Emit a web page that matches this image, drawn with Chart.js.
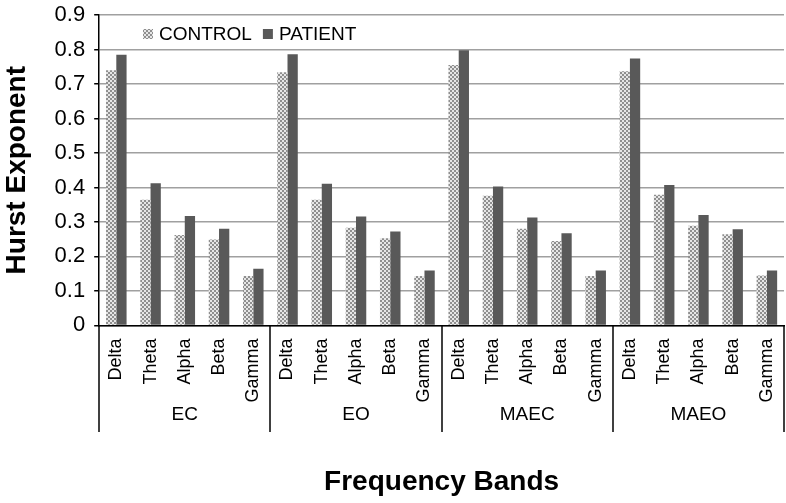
<!DOCTYPE html>
<html>
<head>
<meta charset="utf-8">
<script src="https://cdn.jsdelivr.net/npm/chart.js@4.4.1/dist/chart.umd.min.js"></script>
<style>
  html, body { margin: 0; padding: 0; background: #fff; }
  #wrap { width: 786px; height: 503px; position: relative; }
</style>
</head>
<body>
<div id="wrap"><canvas id="hurstChart"></canvas></div>
<script>
// Data
const groups = ['EC', 'EO', 'MAEC', 'MAEO'];
const bands = ['Delta', 'Theta', 'Alpha', 'Beta', 'Gamma'];
const control = [
  0.740, 0.364, 0.262, 0.249, 0.143,
  0.734, 0.364, 0.283, 0.253, 0.143,
  0.755, 0.376, 0.280, 0.245, 0.143,
  0.737, 0.379, 0.289, 0.264, 0.145
];
const patient = [
  0.785, 0.412, 0.317, 0.280, 0.164,
  0.786, 0.411, 0.316, 0.272, 0.159,
  0.798, 0.403, 0.313, 0.267, 0.159,
  0.774, 0.407, 0.320, 0.279, 0.159
];
const yTicks = [0, 0.1, 0.2, 0.3, 0.4, 0.5, 0.6, 0.7, 0.8, 0.9];

const labels = [];
groups.forEach(() => bands.forEach(b => labels.push(b)));

const FONT = '"Liberation Sans", Arial, sans-serif';

// checker fill for CONTROL
function checkerPattern() {
  const c = document.createElement('canvas');
  c.width = 4; c.height = 4;
  const g = c.getContext('2d');
  g.fillStyle = '#e6e6e6';
  g.fillRect(0, 0, 4, 4);
  g.fillStyle = '#8f8f8f';
  g.fillRect(0, 0, 2, 2);
  g.fillRect(2, 2, 2, 2);
  return g.createPattern(c, 'repeat');
}
const controlFill = checkerPattern();
const patientFill = '#595959';

// group labels, separators and legend
const groupAxisPlugin = {
  id: 'groupAxis',
  afterDraw(chart) {
    const ctx = chart.ctx;
    const x = chart.scales.x;
    const area = chart.chartArea;
    const step = x.getPixelForValue(1) - x.getPixelForValue(0);
    ctx.save();
    ctx.strokeStyle = '#000';
    ctx.lineWidth = 1.5;
    for (let g = 0; g <= groups.length; g++) {
      const px = Math.round(x.getPixelForValue(g * bands.length) - step / 2);
      ctx.beginPath();
      ctx.moveTo(px, area.bottom);
      ctx.lineTo(px, 432);
      ctx.stroke();
    }
    ctx.fillStyle = '#000';
    ctx.font = '19px ' + FONT;
    ctx.textAlign = 'center';
    ctx.textBaseline = 'middle';
    groups.forEach((name, g) => {
      const a = x.getPixelForValue(g * bands.length);
      const b = x.getPixelForValue(g * bands.length + bands.length - 1);
      ctx.fillText(name, (a + b) / 2, 415);
    });

    // legend
    ctx.font = '19px ' + FONT;
    ctx.textAlign = 'left';
    let lx = 143;
    const ly = 34;
    chart.data.datasets.forEach(ds => {
      ctx.fillStyle = ds.backgroundColor;
      ctx.fillRect(lx, ly - 5, 10, 10);
      ctx.fillStyle = '#000';
      ctx.fillText(ds.label, lx + 16, ly + 1);
      lx += 16 + ctx.measureText(ds.label).width + 11;
    });
    ctx.restore();
  }
};

new Chart(document.getElementById('hurstChart'), {
  type: 'bar',
  data: {
    labels: labels,
    datasets: [
      { label: 'CONTROL', data: control, backgroundColor: controlFill },
      { label: 'PATIENT', data: patient, backgroundColor: patientFill }
    ]
  },
  options: {
    responsive: true,
    maintainAspectRatio: false,
    animation: false,
    layout: { padding: { top: 15, right: 2, left: 0, bottom: 0 } },
    datasets: {
      bar: { categoryPercentage: 0.6, barPercentage: 1.0 }
    },
    plugins: {
      legend: { display: false },
      tooltip: { enabled: false }
    },
    scales: {
      x: {
        afterFit(scale) {
          scale.paddingLeft = 0;
          scale.paddingRight = 0;
        },
        grid: { display: false },
        border: { display: true, color: '#000', width: 1.5 },
        ticks: {
          color: '#000',
          font: { family: FONT, size: 18 },
          minRotation: 90,
          maxRotation: 90,
          autoSkip: false,
          padding: 5
        },
        title: {
          display: true,
          text: 'Frequency Bands',
          color: '#000',
          font: { family: FONT, size: 28, weight: 'bold' },
          padding: { top: 58, bottom: 4 }
        }
      },
      y: {
        min: 0,
        max: 0.9,
        afterBuildTicks(scale) {
          scale.ticks = yTicks.map(v => ({ value: v }));
        },
        afterFit(scale) {
          scale.paddingTop = 0;
          scale.paddingBottom = 0;
        },
        grid: {
          color: '#a0a0a0',
          lineWidth: 1.5,
          drawTicks: true,
          tickLength: 5,
          tickColor: '#000'
        },
        border: { display: true, color: '#000', width: 1.5 },
        ticks: {
          color: '#000',
          font: { family: FONT, size: 22 },
          padding: 9,
          callback: v => String(Math.round(v * 10) / 10)
        },
        title: {
          display: true,
          text: 'Hurst Exponent',
          color: '#000',
          font: { family: FONT, size: 28, weight: 'bold' },
          padding: { top: 0, bottom: 12 }
        }
      }
    }
  },
  plugins: [groupAxisPlugin]
});
</script>
</body>
</html>
